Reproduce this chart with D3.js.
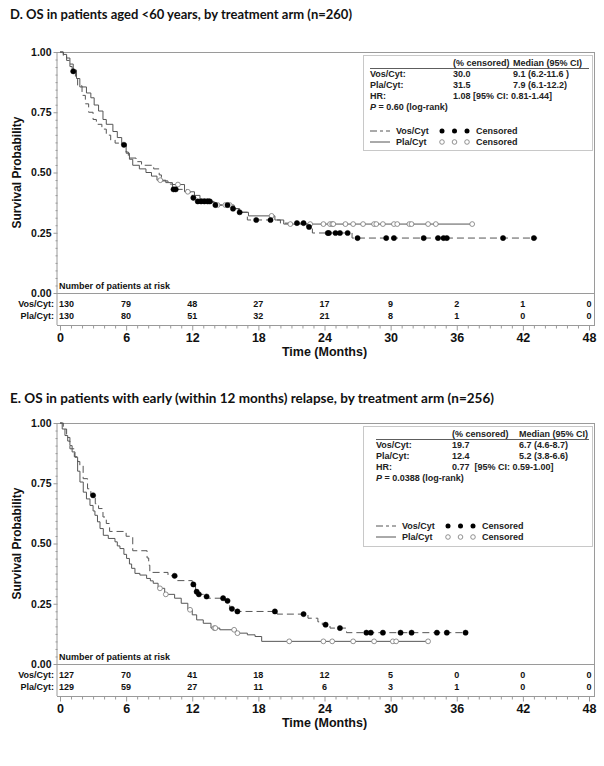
<!DOCTYPE html>
<html><head><meta charset="utf-8">
<script src="https://cdn.jsdelivr.net/npm/d3@7"></script>
<style>body{margin:0;background:#fff}</style>
</head><body>
<svg id="c" width="604" height="766"></svg>
<script>
// ---------- shared ----------
const timeTicks = [0, 6, 12, 18, 24, 30, 36, 42, 48];
const survTicks = [0, 0.25, 0.5, 0.75, 1];
const armLabels = ["Vos/Cyt:", "Pla/Cyt:"];

// ---------- Panel D ----------
const dTitle = "D. OS in patients aged <60 years, by treatment arm (n=260)";
const dVosSteps = [[0,1],[0.3,0.985],[0.6,0.965],[0.9,0.94],[1.1,0.92],[1.4,0.89],[1.6,0.86],[2.0,0.82],[2.3,0.785],[2.6,0.75],[3.0,0.72],[3.3,0.70],[3.8,0.68],[4.2,0.655],[4.6,0.635],[5.0,0.622],[5.6,0.615],[6.0,0.585],[6.2,0.56],[6.9,0.545],[7.4,0.53],[8.5,0.515],[9.0,0.49],[9.2,0.465],[9.8,0.452],[10.2,0.43],[11.5,0.418],[12.0,0.395],[12.4,0.38],[14.0,0.365],[15.5,0.35],[16.2,0.335],[17.0,0.303],[20.0,0.29],[22.4,0.274],[22.9,0.249],[26.5,0.228]];
const dVosEnd = 43.3;
const dVosCens = [1.2,5.8,10.3,10.5,12.1,12.5,12.8,13.1,13.4,13.6,14.1,15.2,15.7,16.3,17.8,19.1,21.5,22.1,22.6,24.3,24.4,25.0,25.4,26.1,27.0,29.6,30.3,33.0,34.3,34.8,35.1,40.2,43.0];
const dPlaSteps = [[0,1],[0.3,0.99],[0.6,0.975],[0.9,0.95],[1.2,0.925],[1.5,0.89],[1.8,0.855],[2.4,0.83],[2.8,0.81],[3.1,0.78],[3.5,0.755],[3.9,0.72],[4.2,0.70],[4.8,0.67],[5.2,0.645],[5.6,0.62],[6.0,0.58],[6.3,0.555],[6.6,0.53],[7.2,0.515],[7.8,0.50],[8.3,0.485],[8.8,0.468],[9.6,0.458],[10.2,0.45],[11.3,0.42],[12.2,0.405],[12.7,0.39],[13.6,0.375],[14.2,0.365],[15.8,0.35],[16.3,0.335],[17.1,0.32],[19.5,0.303],[20.3,0.286]];
const dPlaEnd = 37.4;
const dPlaCens = [9.1,10.7,11.6,14.3,15.0,15.4,19.2,20.9,22.7,23.9,24.5,24.7,24.8,25.9,26.6,27.5,28.5,28.7,29.3,30.3,30.6,31.7,31.9,33.4,34.1,37.4];
const dRiskVos = [130, 79, 48, 27, 17, 9, 2, 1, 0];
const dRiskPla = [130, 80, 51, 32, 21, 8, 1, 0, 0];
const dStatRows = [["Vos/Cyt:", "30.0", "9.1 (6.2-11.6 )"], ["Pla/Cyt:", "31.5", "7.9 (6.1-12.2)"]];
const dHR = "1.08 [95% CI: 0.81-1.44]";
const dP = " = 0.60 (log-rank)";

// ---------- Panel E ----------
const eTitle = "E. OS in patients with early (within 12 months) relapse, by treatment arm (n=256)";
const eVosSteps = [[0,1],[0.3,0.975],[0.6,0.94],[0.9,0.893],[1.3,0.86],[1.6,0.84],[1.8,0.824],[2.1,0.769],[2.5,0.727],[2.8,0.70],[3.2,0.665],[3.5,0.645],[3.9,0.61],[4.2,0.583],[4.5,0.55],[6.0,0.53],[6.6,0.47],[7.9,0.44],[8.05,0.41],[8.15,0.38],[9.8,0.366],[10.6,0.346],[12.0,0.33],[12.3,0.30],[12.5,0.289],[13.2,0.28],[13.5,0.273],[15.0,0.262],[15.4,0.229],[15.9,0.218],[19.7,0.207],[22.5,0.19],[23.4,0.175],[23.8,0.163],[24.5,0.149],[26.0,0.13]];
const eVosEnd = 36.8;
const eVosCens = [3.0,10.4,12.1,12.4,12.6,13.3,14.8,15.2,15.6,16.1,19.5,22.1,24.1,25.4,27.8,28.2,29.3,30.9,31.9,34.2,35.1,36.8];
const ePlaSteps = [[0,1],[0.2,0.975],[0.45,0.948],[0.7,0.925],[0.9,0.906],[1.1,0.88],[1.36,0.858],[1.6,0.80],[1.81,0.755],[2.11,0.713],[2.4,0.685],[2.72,0.658],[3.0,0.635],[3.17,0.617],[3.4,0.59],[3.63,0.562],[3.93,0.534],[4.38,0.521],[4.99,0.507],[5.2,0.49],[5.44,0.479],[5.8,0.455],[6.04,0.438],[6.3,0.415],[6.5,0.397],[6.8,0.376],[7.25,0.369],[7.86,0.355],[8.2,0.345],[8.46,0.335],[8.9,0.314],[9.5,0.289],[10.4,0.273],[11.0,0.252],[11.6,0.225],[12.0,0.204],[12.4,0.183],[13.0,0.169],[13.7,0.149],[14.5,0.142],[16.0,0.128],[17.0,0.121],[17.7,0.114],[18.3,0.094]];
const ePlaEnd = 33.4;
const ePlaCens = [9.07,9.6,11.8,14.0,14.1,15.8,16.1,20.8,23.9,24.7,26.6,28.5,30.2,30.5,33.4];
const eRiskVos = [127, 70, 41, 18, 12, 5, 0, 0, 0];
const eRiskPla = [129, 59, 27, 11, 6, 3, 1, 0, 0];
const eStatRows = [["Vos/Cyt:", "19.7", "6.7 (4.6-8.7)"], ["Pla/Cyt:", "12.4", "5.2 (3.8-6.6)"]];
const eHR = "0.77  [95% CI: 0.59-1.00]";
const eP = " = 0.0388 (log-rank)";

// ---------- drawing ----------
const svg = d3.select("#c");
const AX = "'Liberation Sans', Arial, sans-serif";
const TF = "Lato, 'Open Sans', sans-serif";
const frameCol = "#9a9a9a";
const curveCol = "#555";

function survAt(steps, t) {
  let s = 1;
  for (const [st, sv] of steps) { if (st <= t) s = sv; }
  return s;
}

function drawPanel(cfg) {
  const g = svg.append("g").attr("transform", `translate(0,${cfg.oy})`);
  const x = d3.scaleLinear().domain([0, 48]).range([60, 589]);
  const y = d3.scaleLinear().domain([0, 1]).range([293, 52]);
  const L = 57, R = 595, T = 52, B = 325;

  svg.append("text").attr("x", 10).attr("y", cfg.titleY)
    .attr("font-family", TF).attr("font-weight", "bold").attr("font-size", 13.5)
    .attr("textLength", cfg.titleLen).attr("lengthAdjust", "spacingAndGlyphs")
    .attr("fill", "#111").text(cfg.title);

  const fr = g.append("g").attr("stroke", frameCol).attr("stroke-width", 1).attr("fill", "none");
  fr.append("line").attr("x1", L).attr("x2", R).attr("y1", T + 0.5).attr("y2", T + 0.5);
  fr.append("line").attr("x1", R - 0.5).attr("x2", R - 0.5).attr("y1", T).attr("y2", B);
  fr.append("line").attr("x1", L).attr("x2", R).attr("y1", y(0) + 0.5).attr("y2", y(0) + 0.5);

  const yMinor = d3.range(0, 33).map(i => i / 32).filter(v => !survTicks.includes(v));
  const ya = g.append("g").attr("transform", `translate(${L + 0.5},0)`)
    .call(d3.axisLeft(y).tickValues(survTicks).tickFormat(d3.format(".2f")).tickSize(4).tickPadding(2));
  g.append("g").attr("transform", `translate(${L + 0.5},0)`)
    .call(d3.axisLeft(y).tickValues(yMinor).tickFormat("").tickSize(2))
    .call(a => a.select(".domain").remove());
  ya.select(".domain").attr("d", `M-0.5,${T}V${B}`);
  g.selectAll(".tick line").attr("stroke", frameCol);
  ya.select(".domain").attr("stroke", frameCol);
  ya.selectAll("text").attr("font-family", AX).attr("font-weight", "bold").attr("font-size", 10.5).attr("fill", "#111");

  const xMinor = d3.range(0, 49).filter(v => !timeTicks.includes(v));
  const xa = g.append("g").attr("transform", `translate(0,${B + 0.5})`)
    .call(d3.axisBottom(x).tickValues(timeTicks).tickSize(5).tickPadding(3));
  const xm = g.append("g").attr("transform", `translate(0,${B + 0.5})`)
    .call(d3.axisBottom(x).tickValues(xMinor).tickFormat("").tickSize(3));
  xm.select(".domain").remove();
  xa.select(".domain").attr("d", `M${L},0H${R}`).attr("stroke", frameCol);
  xa.selectAll("line").attr("stroke", frameCol);
  xm.selectAll("line").attr("stroke", frameCol);
  xa.selectAll("text").attr("font-family", AX).attr("font-weight", "bold").attr("font-size", 12.5).attr("fill", "#111");

  g.append("text").attr("transform", `translate(21,${(T + y(0)) / 2}) rotate(-90)`)
    .attr("text-anchor", "middle").attr("font-family", AX).attr("font-weight", "bold")
    .attr("font-size", 12).attr("fill", "#111").text("Survival Probability");
  g.append("text").attr("x", x(24)).attr("y", B + 31).attr("text-anchor", "middle")
    .attr("font-family", AX).attr("font-weight", "bold").attr("font-size", 12.5)
    .attr("fill", "#111").text("Time (Months)");

  g.append("text").attr("x", 59).attr("y", y(0) - 4).attr("font-family", AX).attr("font-weight", "bold")
    .attr("font-size", 9).attr("fill", "#111").text("Number of patients at risk");
  [cfg.riskVos, cfg.riskPla].forEach((row, ri) => {
    const ry = y(0) + 14 + ri * 11.5;
    g.append("text").attr("x", 54).attr("y", ry).attr("text-anchor", "end")
      .attr("font-family", AX).attr("font-weight", "bold").attr("font-size", 9).attr("fill", "#111")
      .text(armLabels[ri]);
    g.selectAll(null).data(row).join("text")
      .attr("x", (d, i) => i === 0 ? x(timeTicks[i]) - 1 : x(timeTicks[i]))
      .attr("y", ry)
      .attr("text-anchor", (d, i) => i === 0 ? "start" : "middle")
      .attr("font-family", AX).attr("font-weight", "bold").attr("font-size", 9).attr("fill", "#111")
      .text(d => d);
  });

  const line = d3.line().x(d => x(d[0])).y(d => y(d[1])).curve(d3.curveStepAfter);
  const arms = [
    { steps: cfg.plaSteps, end: cfg.plaEnd, cens: cfg.plaCens, dash: null, filled: false },
    { steps: cfg.vosSteps, end: cfg.vosEnd, cens: cfg.vosCens, dash: "7,4", filled: true }
  ];
  arms.forEach(a => {
    const pts = a.steps.concat([[a.end, a.steps[a.steps.length - 1][1]]]);
    g.append("path").attr("d", line(pts)).attr("fill", "none").attr("stroke", curveCol)
      .attr("stroke-width", 1).attr("stroke-dasharray", a.dash);
  });
  arms.forEach(a => {
    g.selectAll(null).data(a.cens).join("circle")
      .attr("cx", d => x(d)).attr("cy", d => y(survAt(a.steps, d))).attr("r", a.filled ? 2.6 : 2.4)
      .attr("fill", a.filled ? "#000" : "#fff").attr("stroke", a.filled ? "#000" : "#777")
      .attr("stroke-width", a.filled ? 0.5 : 0.8);
  });

  const lg = g.append("g").attr("font-family", AX).attr("font-weight", "bold").attr("font-size", 9).attr("fill", "#222");
  lg.append("rect").attr("x", 363.5).attr("y", T + 3.5).attr("width", 229).attr("height", cfg.boxH)
    .attr("fill", "#fff").attr("stroke", "#c8c8c8");
  const [c1, c2, c3] = cfg.cols;
  lg.append("text").attr("x", c2).attr("y", T + 14).text("(% censored)");
  lg.append("text").attr("x", c3).attr("y", T + 14).text("Median (95% CI)");
  lg.append("line").attr("x1", c1).attr("x2", 589).attr("y1", T + 16.5).attr("y2", T + 16.5).attr("stroke", "#333").attr("stroke-width", 0.8);
  cfg.stats.forEach((r, i) => {
    const ry = T + 25 + i * 10.7;
    lg.append("text").attr("x", c1).attr("y", ry).text(r[0]);
    lg.append("text").attr("x", c2).attr("y", ry).text(r[1]);
    lg.append("text").attr("x", c3).attr("y", ry).text(r[2]);
  });
  lg.append("text").attr("x", c1).attr("y", T + 46.5).text("HR:");
  lg.append("text").attr("x", c2).attr("y", T + 46.5).attr("xml:space", "preserve").text(cfg.hr);
  const pt = lg.append("text").attr("x", c1).attr("y", T + 57.5);
  pt.append("tspan").attr("font-style", "italic").text("P");
  pt.append("tspan").text(cfg.p);

  const ky = cfg.legY.map(v => T + v);
  lg.append("line").attr("x1", c1).attr("x2", c1 + 20).attr("y1", ky[0] - 3).attr("y2", ky[0] - 3)
    .attr("stroke", curveCol).attr("stroke-dasharray", "7,3,3,3");
  lg.append("line").attr("x1", c1).attr("x2", c1 + 20).attr("y1", ky[1] - 3).attr("y2", ky[1] - 3)
    .attr("stroke", curveCol);
  lg.append("text").attr("x", c1 + 26).attr("y", ky[0]).text("Vos/Cyt");
  lg.append("text").attr("x", c1 + 26).attr("y", ky[1]).text("Pla/Cyt");
  [0, 1, 2].forEach(k => {
    lg.append("circle").attr("cx", c1 + 72 + k * 12.5).attr("cy", ky[0] - 3).attr("r", 2.5).attr("fill", "#000");
    lg.append("circle").attr("cx", c1 + 72 + k * 12.5).attr("cy", ky[1] - 3).attr("r", 2.3)
      .attr("fill", "#fff").attr("stroke", "#777").attr("stroke-width", 0.8);
  });
  lg.append("text").attr("x", c1 + 106).attr("y", ky[0]).text("Censored");
  lg.append("text").attr("x", c1 + 106).attr("y", ky[1]).text("Censored");
}

drawPanel({ oy: 0, title: dTitle, titleY: 19, titleLen: 342, cols: [370, 453, 513], boxH: 95, legY: [82, 93],
  vosSteps: dVosSteps, vosEnd: dVosEnd, vosCens: dVosCens,
  plaSteps: dPlaSteps, plaEnd: dPlaEnd, plaCens: dPlaCens,
  riskVos: dRiskVos, riskPla: dRiskPla, stats: dStatRows, hr: dHR, p: dP });
drawPanel({ oy: 371, title: eTitle, titleY: 403, titleLen: 484, cols: [376, 452, 519], boxH: 120, legY: [106, 117],
  vosSteps: eVosSteps, vosEnd: eVosEnd, vosCens: eVosCens,
  plaSteps: ePlaSteps, plaEnd: ePlaEnd, plaCens: ePlaCens,
  riskVos: eRiskVos, riskPla: eRiskPla, stats: eStatRows, hr: eHR, p: eP });
</script>
</body></html>
